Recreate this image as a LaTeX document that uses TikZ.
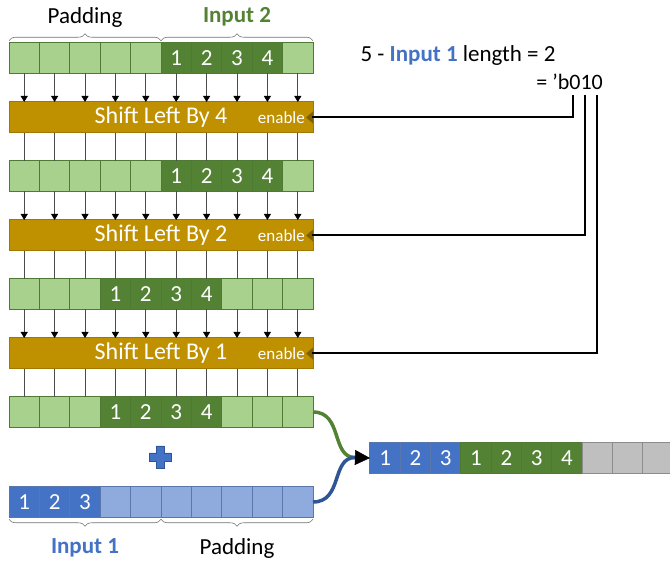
\documentclass[tikz,border=0pt]{standalone}
\usepackage{fontspec}
\setmainfont{Carlito}
\usetikzlibrary{arrows.meta,decorations.pathreplacing,calc}
\definecolor{lgreen}{HTML}{A9D18E}
\definecolor{dgreen}{HTML}{548235}
\definecolor{gborder}{HTML}{4E7A34}
\definecolor{dblue}{HTML}{4472C4}
\definecolor{lblue}{HTML}{8FAADC}
\definecolor{bborder}{HTML}{2F5597}
\definecolor{gold}{HTML}{BF9000}
\definecolor{goldb}{HTML}{A07800}
\definecolor{goldd}{HTML}{7F6000}
\definecolor{lgray}{HTML}{BFBFBF}
\definecolor{grayb}{HTML}{8C8C8C}
\tikzset{
  cell/.style={draw, line width=1pt, minimum width=30.4pt, minimum height=30.5pt, inner sep=0pt, outer sep=0pt, text=white, font=\fontsize{23}{23}\selectfont},
  lg/.style={cell, fill=lgreen, draw=gborder},
  dg/.style={cell, fill=dgreen, draw=gborder},
  lb/.style={cell, fill=lblue, draw=bborder!80},
  db/.style={cell, fill=dblue, draw=bborder!80},
  gy/.style={cell, fill=lgray, draw=grayb},
  shiftbox/.style={draw=goldb, fill=gold, line width=1pt, minimum width=304pt, minimum height=31pt, inner sep=0pt, outer sep=0pt, text=white, font=\fontsize{24}{24}\selectfont},
  enab/.style={text=white, font=\fontsize{17}{17}\selectfont, inner sep=0pt},
  arr/.style={black!70, line width=0.8pt, -{Triangle[length=6pt,width=7pt,black]}},
  wire/.style={black!70, line width=0.8pt},
  ctrl/.style={black, line width=2pt},
  brc/.style={decorate, decoration={brace, amplitude=7pt}, draw=black!55, line width=0.6pt},
  lbl/.style={font=\fontsize{23}{23}\selectfont, inner sep=0pt},
  blbl/.style={font=\fontsize{23}{23}\selectfont\bfseries, inner sep=0pt},
}
\begin{document}
\begin{tikzpicture}[x=1pt,y=-1pt]
\useasboundingbox (0,0) rectangle (670,561);
% data rows
\foreach \r/\yy/\st in {1/58/6, 2/176/6, 3/294/4, 4/412/4}{
  \foreach \i in {1,...,10}{
    \pgfmathtruncatemacro\k{\i-\st+1}
    \ifnum\k>0 \ifnum\k<5
      \node[dg] (r\r c\i) at ({9+30.4*(\i-0.5)},\yy) {\k};
    \else
      \node[lg] (r\r c\i) at ({9+30.4*(\i-0.5)},\yy) {};
    \fi \else
      \node[lg] (r\r c\i) at ({9+30.4*(\i-0.5)},\yy) {};
    \fi
  }
}
% input 1 row
\foreach \i in {1,...,10}{
  \ifnum\i<4
    \node[db] (in\i) at ({9+30.4*(\i-0.5)},502) {\i};
  \else
    \node[lb] (in\i) at ({9+30.4*(\i-0.5)},502) {};
  \fi
}
% shift boxes
\node[shiftbox] (s1) at (161,117.5) {Shift Left By 4};
\node[shiftbox] (s2) at (161,235.5) {Shift Left By 2};
\node[shiftbox] (s3) at (161,353.5) {Shift Left By 1};
\foreach \s in {1,2,3}{
  \node[enab, anchor=east] (e\s) at ($(s\s.east)+(-8,0)$) {enable};
  \fill[goldd] ($(s\s.east)+(0,-6)$) -- ($(s\s.east)+(-7,0)$) -- ($(s\s.east)+(0,6)$) -- cycle;
}
% vertical connectors
\foreach \i in {1,...,10}{
  \draw[arr] (r1c\i.south) -- (r1c\i.south |- s1.north);
  \draw[wire] (r1c\i.south |- s1.south) -- (r2c\i.north);
  \draw[arr] (r2c\i.south) -- (r2c\i.south |- s2.north);
  \draw[wire] (r2c\i.south |- s2.south) -- (r3c\i.north);
  \draw[arr] (r3c\i.south) -- (r3c\i.south |- s3.north);
  \draw[wire] (r3c\i.south |- s3.south) -- (r4c\i.north);
}
% braces and labels
\draw[brc] ($(r1c1.north west)+(0,-2)$) -- ($(r1c5.north east)+(0,-2)$);
\draw[brc] ($(r1c6.north west)+(0,-2)$) -- ($(r1c10.north east)+(0,-2)$);
\node[lbl] (padtop) at (85,17) {Padding};
\node[blbl, text=dgreen] (in2lbl) at (237,17) {Input 2};
\draw[brc] ($(in5.south east)+(0,2)$) -- ($(in1.south west)+(0,2)$);
\draw[brc] ($(in10.south east)+(0,2)$) -- ($(in6.south west)+(0,2)$);
\node[blbl, text=dblue] (in1lbl) at (85,548) {Input 1};
\node[lbl] (padbot) at (237,548) {Padding};
% formula
\node[font=\fontsize{23}{23}\selectfont, inner sep=0pt] (f1) at (458,55) {5 - \textcolor{dblue}{\textbf{Input 1}} length = 2};
\node[font=\fontsize{22}{22}\selectfont, inner sep=0pt, anchor=east] (f2) at (603,82) {= ’b010};
\coordinate (b1) at (572.5,95);
\coordinate (b2) at (584.5,95);
\coordinate (b3) at (596.5,95);
\draw[ctrl] ($(s1.east)+(-1,0)$) -| (b1);
\draw[ctrl] ($(s2.east)+(-1,0)$) -| (b2);
\draw[ctrl] ($(s3.east)+(-1,0)$) -| (b3);
% plus
\filldraw[fill=dblue, draw=bborder, line width=0.8pt]
  (156,446) -- (164,446) -- (164,453) -- (171,453) -- (171,461) -- (164,461) -- (164,468) -- (156,468) -- (156,461) -- (149,461) -- (149,453) -- (156,453) -- cycle;
% result row
\foreach \i in {1,...,10}{
  \ifnum\i<4
    \node[db] (res\i) at ({370+30.3*(\i-0.5)},458) {\i};
  \else \ifnum\i<8
    \pgfmathtruncatemacro\k{\i-3}
    \node[dg] (res\i) at ({370+30.3*(\i-0.5)},458) {\k};
  \else
    \node[gy] (res\i) at ({370+30.3*(\i-0.5)},458) {};
  \fi \fi
}
% merge curves
\coordinate (m) at (355,457.5);
\draw[dgreen, line width=3.5pt] (r4c10.east) .. controls +(30,0) and +(-24,0) .. (m);
\draw[bborder, line width=3.5pt] (in10.east) .. controls +(30,0) and +(-24,0) .. (m);
\draw[line width=0.5pt, -{Triangle[length=15pt,width=15pt]}] (m) -- (res1.west);
\end{tikzpicture}
\end{document}
